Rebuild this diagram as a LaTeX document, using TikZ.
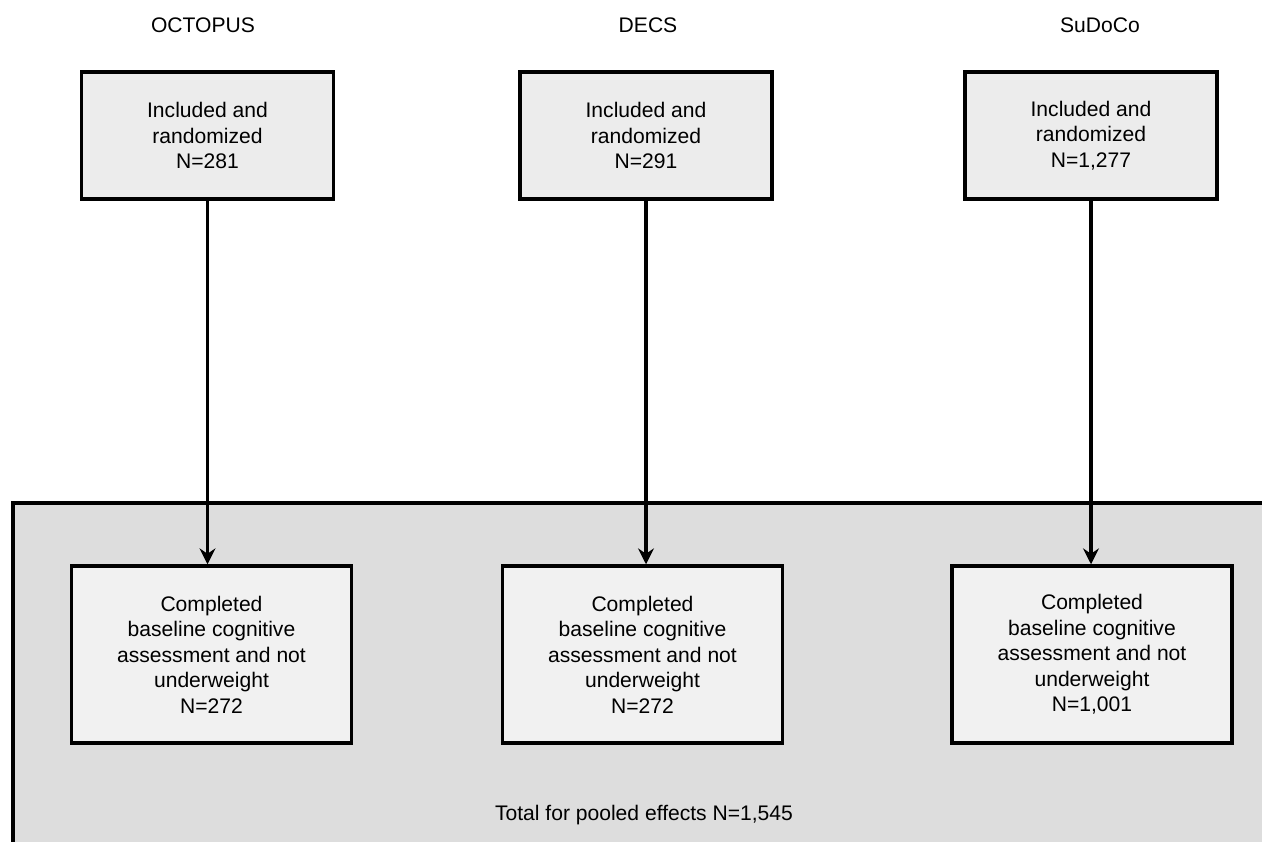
\documentclass[tikz,border=0pt]{standalone}
\usepackage{fontspec}
\setmainfont{Liberation Sans}
\usepackage{tikz}
\usetikzlibrary{arrows.meta,positioning,calc}
\definecolor{poolgray}{RGB}{221,221,221}
\definecolor{boxgray}{RGB}{236,236,236}
\definecolor{lowboxgray}{RGB}{241,241,241}

\begin{document}
\begin{tikzpicture}[
    x=0.02cm,
    y=-0.02cm,
    >={Stealth[length=9pt,width=9pt,inset=3pt]},
    title/.style={
        font=\fontsize{12}{14.5}\selectfont
    },
    topbox/.style={
        draw=black,
        line width=2pt,
        fill=boxgray,
        minimum width=5.05cm,
        minimum height=2.54cm,
        align=center,
        font=\fontsize{12}{14.5}\selectfont
    },
    lowbox/.style={
        draw=black,
        line width=2pt,
        fill=lowboxgray,
        minimum width=5.6cm,
        minimum height=3.54cm,
        align=center,
        font=\fontsize{12}{14.5}\selectfont
    }
]

\useasboundingbox (0,0) rectangle (1262,842);
\clip (0,0) rectangle (1262,842);

% pooled area
\path[draw=black,line width=2pt,fill=poolgray] (13,503) rectangle (1290,870);

\node[title] (octo) at (203,25) {OCTOPUS};
\node[title] (decs) at (648,25) {DECS};
\node[title] (sudo) at (1100,25) {SuDoCo};

\node[topbox] (octoin) at (207.5,135.5)
{Included and\\randomized\\N=281};
\node[topbox] (decsin) at (646,135.5)
{Included and\\randomized\\N=291};
\node[topbox] (sudoin) at (1091,135.5)
{Included and\\randomized\\N=1,277};

\node[lowbox] (octobase) at (211.5,654.5)
{Completed\\baseline cognitive\\assessment and not\\underweight\\N=272};
\node[lowbox] (decsbase) at (642.5,654.5)
{Completed\\baseline cognitive\\assessment and not\\underweight\\N=272};
\node[lowbox] (sudobase) at (1092,654.5)
{Completed\\baseline cognitive\\assessment and not\\underweight\\N=1,001};

\node[title] (total) at (644,815) {Total for pooled effects N=1,545};

\draw[->,line width=2pt] (octoin.south) -- (octoin.south |- octobase.north);
\draw[->,line width=2pt] (decsin.south) -- (decsin.south |- decsbase.north);
\draw[->,line width=2pt] (sudoin.south) -- (sudoin.south |- sudobase.north);

\end{tikzpicture}
\end{document}
